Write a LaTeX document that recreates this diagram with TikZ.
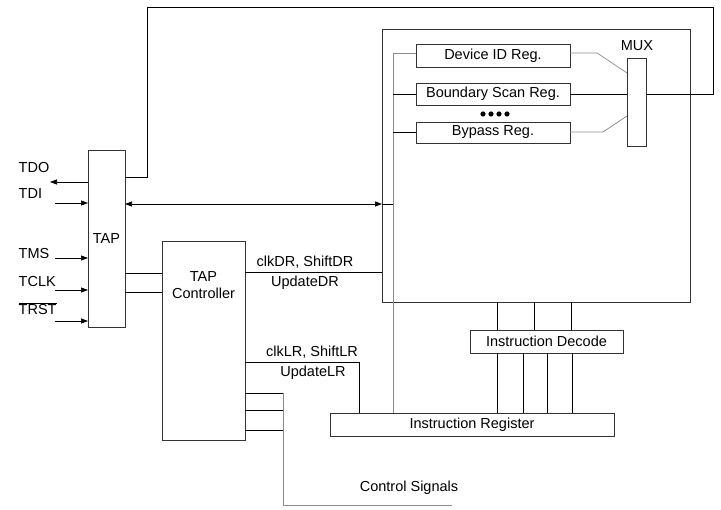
\documentclass[tikz,border=0pt]{standalone}
\usepackage{fontspec}
\setmainfont{Liberation Sans}
\usetikzlibrary{arrows.meta}
\tikzset{
  blok/.style={draw=black!80, inner sep=0pt, outer sep=0pt},
  sig/.style={-{Triangle[length=7pt,width=5pt]}},
  bus/.style={draw=black!45},
}
\begin{document}
\begin{tikzpicture}[x=1pt, y=-1pt, font=\fontsize{14.5}{17}\selectfont, line width=0.7pt]
    \useasboundingbox (0,0) rectangle (721,510);

    % Blokken
    \node[blok, minimum width=37pt, minimum height=177pt] (tap) at (106.5,238.5) {TAP};
    \node[blok, minimum width=83pt, minimum height=199pt] (ctrl) at (203.5,340.5) {};
    \node[align=center] (ctrltxt) at (203.5,285) {TAP\\Controller};
    \node[blok, minimum width=308pt, minimum height=273pt] (chip) at (536,165.5) {};
    \node[blok, minimum width=154pt, minimum height=23pt] (idreg) at (493,55.5) {Device ID Reg.};
    \node[blok, minimum width=154pt, minimum height=22pt] (bsreg) at (493,94) {Boundary Scan Reg.};
    \node[blok, minimum width=154pt, minimum height=21pt] (bpreg) at (493,132.5) {Bypass Reg.};
    \foreach \x in {483,491,499,507}
        \fill (\x,114) circle (2.6pt);
    \node[blok, minimum width=19pt, minimum height=88pt] (mux) at (636.5,102) {};
    \node (muxtxt) at (637,46) {MUX};
    \node[blok, minimum width=153pt, minimum height=23pt] (idec) at (546.5,341.5) {Instruction Decode};
    \node[blok, minimum width=284pt, minimum height=23pt] (ireg) at (472,424.5) {Instruction Register};

    % Pinnen links
    \node[anchor=west] (tdo) at (15,168) {TDO};
    \node[anchor=west] (tdi) at (15,194) {TDI};
    \node[anchor=west] (tms) at (15,254) {TMS};
    \node[anchor=west] (tclk) at (15,282) {TCLK};
    \node[anchor=west] (trst) at (15,309) {$\overline{\mbox{TRST}}$};
    \draw[sig] (tap.west |- 0,182) -- (50,182);
    \draw[sig] (55,203) -- (tap.west |- 0,203);
    \draw[sig] (55,258) -- (tap.west |- 0,258);
    \draw[sig] (55,290) -- (tap.west |- 0,290);
    \draw[sig] (55,321) -- (tap.west |- 0,321);

    % TDO terugkoppeling via MUX
    \draw (mux.east |- 0,94) -- (713,94) -- (713,7) -- (147,7) -- (147,177) -- (tap.east |- 0,177);

    % Databus tussen TAP en registers
    \draw[{Triangle[length=7pt,width=5pt]}-{Triangle[length=7pt,width=5pt]}] (tap.east |- 0,204) -- (chip.west |- 0,204);
    \draw (chip.west |- 0,204) -- (393,204);
    \draw[bus] (idreg.west |- 0,53) -- (393,53) -- (393,413);
    \draw (393,94) -- (bsreg.west);
    \draw (393,132.5) -- (bpreg.west);

    % Registers naar MUX
    \draw[bus] (idreg.east |- 0,53) -- (597,53) -- (mux.west |- 0,73);
    \draw (bsreg.east) -- (mux.west |- bsreg.east);
    \draw[bus] (bpreg.east |- 0,132) -- (603,132) -- (mux.west |- 0,116);

    % TAP naar controller
    \draw (tap.east |- 0,273) -- (ctrl.west |- 0,273);
    \draw (tap.east |- 0,292) -- (ctrl.west |- 0,292);

    % Stuursignalen
    \draw (ctrl.east |- 0,272) -- (chip.west |- 0,272);
    \node (dr1) at (305,262) {clkDR, ShiftDR};
    \node (dr2) at (305,283) {UpdateDR};
    \draw (ctrl.east |- 0,362) -- (359,362) -- (ireg.north -| 359,0);
    \node (lr1) at (312,352) {clkLR, ShiftLR};
    \node (lr2) at (313,373) {UpdateLR};
    \draw (ctrl.east |- 0,393) -- (283,393);
    \draw (ctrl.east |- 0,410) -- (283,410);
    \draw (ctrl.east |- 0,430) -- (283,430);
    \draw[bus] (283,393) -- (283,505) -- (452,505);
    \node (cs) at (409,488) {Control Signals};

    % Decoder
    \foreach \x in {497,534,571}
        \draw (\x,302) -- (idec.north -| \x,0);
    \foreach \x in {497,523,547,572}
        \draw (idec.south -| \x,0) -- (ireg.north -| \x,0);
\end{tikzpicture}
\end{document}
